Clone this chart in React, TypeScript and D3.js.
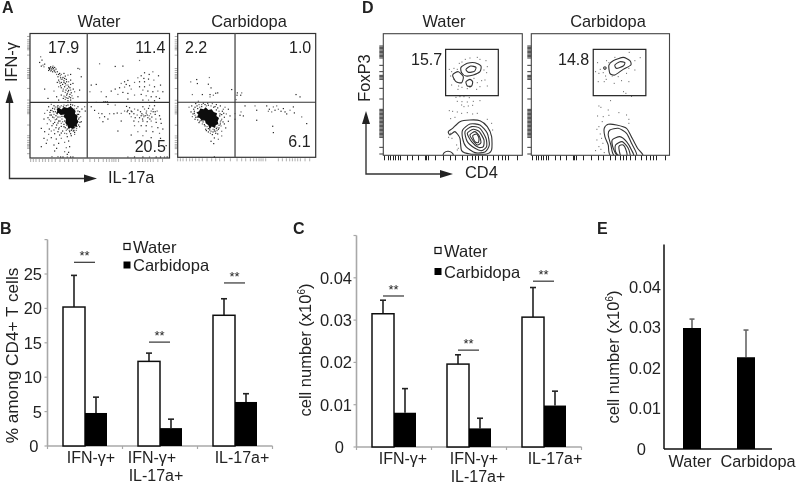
import React from "react";
import * as d3 from "d3";

type Pt = [number, number];

// ---------- bar chart data ----------
const groups = ["IFN-γ+", "IFN-γ+ IL-17a+", "IL-17a+"];
const percentWater = [20.2, 12.3, 19.0];
const percentWaterTop = [24.8, 13.5, 21.4];
const percentCarbidopa = [4.8, 2.6, 6.4];
const percentCarbidopaTop = [7.1, 3.9, 7.6];
const percentSignif = [26.7, 15.1, 23.7];
const percentTicks = [0, 5, 10, 15, 20, 25];

const cellsWater = [0.0315, 0.0196, 0.0307];
const cellsWaterTop = [0.0347, 0.0218, 0.0377];
const cellsCarbidopa = [0.0081, 0.0044, 0.0098];
const cellsCarbidopaTop = [0.0138, 0.0068, 0.0132];
const cellsSignif = [0.0357, 0.0229, 0.0392];
const cellTicks = [0, 0.01, 0.02, 0.03, 0.04];

const treatments = ["Water", "Carbidopa"];
const tregCells = [0.0298, 0.0226];
const tregCellsTop = [0.032, 0.0293];

// ---------- flow cytometry readings (instrument channels) ----------
const gridWaterA: Pt[] = [[178, 212]];
const gridCarbA: Pt[] = [[180, 211]];
const valuesA = [
  { panel: 0, labels: [["17.9", 60, 62], ["11.4", 322, 62], ["20.5", 320, 359]] },
  { panel: 1, labels: [["2.2", 30, 62], ["1.0", 342, 62], ["6.1", 340, 346]] },
];

const waterAPoints: Pt[] = [
  [38,75],[42,85],[35,92],[45,100],[50,97],[40,103],[48,105],[62,108],[68,105],[75,103],[80,107],[65,113],[72,113],[78,115],[84,112],[68,118],[74,120],[62,116],[82,122],[88,120],[95,125],[100,128],[108,125],[90,135],[97,132],[105,137],[112,133],[120,130],[128,128],[150,110],[155,112],[160,135],[92,145],[100,143],[108,147],[115,143],[122,150],[128,145],[88,152],[96,155],[104,158],[112,155],[120,160],[128,158],[135,155],[92,165],[100,168],[110,165],[118,170],[126,168],[136,172],[78,178],[50,172],[105,178],[112,182],[120,180],[130,183],[140,180],[155,175],[100,190],[108,193],[116,190],[124,195],[132,192],[86,195],[92,205],[112,203],[120,207],[128,205],[135,200],[60,200],[150,195],[116,198],[106,200],
  [66,108],[70,110],[74,107],[64,110],[70,116],[76,110],[80,118],[86,128],[92,128],[98,138],[104,142],[110,140],[116,150],[94,150],[100,152],[108,152],[114,160],[122,165],[98,162],[106,172],[114,175],[122,176],[128,175],[118,186],[126,188],[112,196],[120,200],[128,198],
  [70,218],[62,225],[74,230],[58,236],[66,242],[78,222],[50,245],[70,250],[60,258],[78,258],[86,262],[48,262],[68,268],[80,272],[92,268],[58,276],[72,282],[86,280],[100,275],[108,285],[64,292],[78,295],[92,292],[104,298],[115,296],[50,300],[40,290],[62,308],[80,306],[95,310],[110,305],[125,300],[136,298],[145,296],[155,285],[160,270],[158,255],[155,240],[162,232],[170,225],[172,238],[150,225],[140,222],[128,218],[115,222],[100,222],[90,222],
  [48,320],[58,325],[70,318],[85,322],[100,320],[118,315],[130,312],[140,308],[78,340],[92,335],[110,332],[122,328],[86,350],[115,348],[125,345],[80,358],[110,360],[122,362],[118,368],[90,375],[98,376],[105,376],[118,376],[128,376],[135,376],[72,375],[55,335],[40,345],
  [96,238],[88,246],[76,240],[102,262],[110,268],[116,280],[122,288],[130,296],[140,288],[146,278],[152,262],[148,248],[140,232],[128,224],[106,225],
  [72,236],[80,232],[82,240],[78,248],[84,252],[90,256],[96,256],[102,254],[74,256],[82,264],[90,274],[96,268],[104,270],[108,278],[100,284],[94,288],[112,288],[118,292],[124,296],[132,292],[138,296],[146,290],[152,280],[156,272],[154,258],[152,248],[150,238],[146,230],[134,220],[120,220],[108,220],[96,226],[88,226],[82,226],[68,236],[66,250],[64,264],[76,276],[84,288],[70,298],[90,300],[100,304],[116,306],[128,306],[140,302],
  [215,96],[262,104],[285,103],[335,86],[350,123],[364,128],[375,120],[392,132],[340,132],[330,138],[348,140],[362,142],[378,145],[350,150],[335,150],[320,152],[300,146],[290,150],[280,155],[295,158],[305,162],[290,166],[275,168],[262,172],[310,172],[335,165],[350,165],[365,160],[380,165],[398,160],[345,175],[360,178],[375,180],[390,178],[405,180],[340,188],[355,192],[370,195],[385,195],[320,190],[300,185],[285,182],[270,188],[250,178],[235,195],[220,180],[205,158],[190,160],[186,180],[300,202],[345,205],[362,205],[380,207],[395,200],
  [227,210],[232,210],[238,210],[205,212],[190,225],[200,236],[212,245],[222,246],[230,255],[245,246],[258,246],[268,244],[280,245],[240,262],[225,270],[215,258],[300,236],[310,238],[320,232],[330,235],[338,240],[350,232],[362,230],[375,232],[388,238],[305,246],[318,246],[328,250],[342,246],[355,244],[368,246],[382,248],[395,252],[310,255],[322,258],[335,258],[348,255],[360,258],[372,256],[384,262],[398,262],[318,268],[332,270],[345,268],[358,270],[370,268],[385,272],[400,275],[320,282],[340,282],[355,282],[372,285],[390,288],[405,292],[330,300],[355,298],[375,300],[395,305],[270,298],[310,310],[345,312],[370,318],[398,320],[300,376],[320,376],[345,376],[365,376],[385,376],[398,376],[410,376],[418,376],[415,342],[325,335],[280,268],[296,224],[262,220],[240,218],
  [340,252],[346,250],[352,252],[358,250],[364,252],[376,240],[382,240],[370,238],[344,262],[366,262],[356,238],[312,240],[298,240],[290,238],[305,228],[345,225],[365,222],[380,222],
];
const waterACore: Pt[] = [[86,232],[92,227],[100,233],[108,226],[118,229],[128,224],[136,230],[143,238],[141,246],[149,252],[147,262],[152,270],[146,278],[149,286],[140,284],[136,293],[128,288],[122,292],[118,280],[112,274],[114,262],[106,254],[110,248],[98,250],[92,244],[84,246],[88,238]];

const carbAPoints: Pt[] = [
  [47,150],[65,143],[67,155],[103,137],[100,157],[108,168],[52,188],[82,188],[105,188],[115,190],[122,184],[128,183],[105,195],[170,173],[187,183],[200,183],[186,190],[197,190],[183,203],[363,188],[375,195],
  [70,208],[62,215],[50,222],[42,226],[56,232],[48,240],[72,218],[85,214],[98,214],[112,215],[124,218],[136,222],[150,226],[160,232],[142,238],[154,246],[165,252],[148,256],[140,262],[160,268],[148,276],[138,282],[152,288],[130,292],[140,298],[120,298],[128,306],[108,298],[100,290],[90,282],[82,276],[72,272],[60,262],[52,254],[112,308],[118,318],[130,322],[108,328],[116,335],[140,312],[92,292],[84,262],[70,250],[58,244],[135,246],[145,232],[128,228],[116,226],[94,222],[80,224],[68,230],[136,270],[132,280],[124,290],[114,292],[104,294],[78,266],[66,256],
  [60,226],[66,222],[74,226],[58,238],[54,246],[60,250],[62,256],[68,264],[74,268],[84,270],[88,278],[96,284],[94,296],[100,300],[106,304],[114,300],[122,304],[126,296],[132,288],[136,276],[138,266],[134,252],[140,248],[132,238],[124,234],[120,224],[108,222],[100,220],[90,218],[80,218],[146,244],[144,270],[126,286],[118,294],
  [210,222],[240,222],[245,235],[275,222],[295,225],[283,232],[300,235],[310,232],[325,230],[330,240],[345,235],[358,243],[355,225],[380,255],[395,275],[245,265],[290,240],[293,283],[295,302],[198,240],[205,252],[195,250],[180,245],[180,262],[118,375],[280,238],[318,238],[335,246],[305,222],
];
const carbACore: Pt[] = [[64,242],[72,238],[76,230],[86,232],[92,226],[100,234],[110,232],[116,240],[126,244],[124,252],[132,258],[128,268],[130,276],[122,280],[120,288],[110,284],[104,292],[100,280],[92,274],[90,266],[80,266],[74,258],[66,256],[70,248]];

const ticksABottom = [8,16,24,34,44,52,62,72,82,96,110,122,134,148,166,186,200,212,226,236,244,252,258,264,272,310,322,334,344,352,360,368,376,390,404];
const ticksALeft = [14,24,30,36,42,46,50,54,70,110,116,122,128,132,136,140,170,205,214,222,228,234,238,242,246,280,312,318,326,332,338,342,346,350,366];

const gateD = [[197, 58, 355, 197], [205, 58, 363, 197]];

const waterDContours: Pt[][] = [
  [[243,112],[262,100],[285,98],[303,108],[300,125],[280,135],[258,138],[245,128]],
  [[258,118],[272,108],[288,112],[283,124],[266,127]],
  [[218,135],[235,125],[250,140],[245,158],[228,155]],
  [[258,155],[270,148],[278,155],[275,168],[262,168]],
  [[205,305],[218,295],[240,275],[270,270],[300,272],[322,290],[335,320],[335,360],[320,372],[270,372],[245,362],[240,325],[225,305],[210,315]],
  [[248,300],[270,282],[300,285],[322,310],[328,345],[315,366],[285,368],[258,350],[248,325]],
  [[255,305],[275,290],[300,295],[318,325],[320,350],[305,362],[285,355],[262,335]],
  [[262,310],[280,298],[298,305],[312,330],[310,350],[295,352],[275,335]],
  [[270,315],[285,305],[298,318],[303,338],[292,345],[278,330]],
  [[278,318],[290,312],[297,325],[295,338],[285,335]],
  [[190,378],[193,368],[205,364],[218,370],[218,378]],
];
const waterDPoints: Pt[] = [
  [238,100],[246,96],[256,88],[270,84],[292,82],[300,88],[318,92],[322,110],[312,120],[320,128],[208,118],[215,125],[222,115],[232,118],[212,138],[222,148],[236,168],[246,172],[234,178],[262,176],[270,172],[292,158],[305,152],[300,170],[315,150],[322,168],[282,145],[290,178],[215,165],
  [228,202],[240,200],[252,200],[268,203],[232,214],[246,215],[262,216],[280,214],[300,212],[245,225],[252,230],[265,228],[278,226],[208,242],[218,244],[232,246],[245,250],[262,248],[278,252],[292,250],[212,266],[225,262],
  [206,322],[216,325],[212,310],[235,355],[230,345],[232,360],[322,268],[335,280],[338,300],
];
const carbDContours: Pt[][] = [
  [[252,105],[265,92],[295,82],[315,92],[318,105],[295,118],[270,135],[255,130]],
  [[270,105],[285,95],[300,98],[295,108],[275,115]],
  [[236,114],[240,110],[244,114],[240,118]],
  [[238,295],[250,283],[275,285],[305,295],[322,325],[338,355],[352,379],[260,379],[250,345],[240,320]],
  [[255,300],[280,295],[305,310],[320,340],[335,379],[270,379],[258,345],[250,315]],
  [[262,330],[285,320],[305,335],[320,360],[325,379],[280,379],[265,355]],
  [[272,345],[292,335],[310,355],[315,379],[285,379],[272,365]],
  [[282,350],[295,345],[305,365],[305,379],[288,379]],
];
const carbDPoints: Pt[] = [
  [218,98],[245,92],[252,98],[270,82],[313,67],[346,83],[330,92],[312,115],[330,120],[226,118],[212,125],[222,130],[235,128],[242,138],[220,155],[238,155],[244,148],[262,138],[268,160],[280,140],[290,152],[312,155],[305,130],[296,185],[303,190],
  [257,212],[320,199],[222,228],[228,232],[250,240],[282,248],[305,255],[218,258],[235,260],[252,256],[312,268],[232,275],[312,280],
  [222,290],[216,298],[226,312],[230,325],[216,330],[234,340],[222,350],[212,362],[238,368],[228,358],
];
const ticksDBottom = [103,113,120,128,135,143,150,170,185,205,225,228,235,255,280,300,315,335,350,365,375,385,395,410,430,445,455,465,475,500];
const ticksDLeft = [138,142,146,150,154,158,162,166,170,174,196,215,226,230,234,238,265,297,328,332,336,340,344,348,352,356,360,364,368,372,376,380,384,388,392,396,400,404,408,412,442,462];

// ---------- layout helpers ----------
const FONT = "'Liberation Sans', Arial, sans-serif";
const INK = "#222";

function Txt({ x, y, size = 16, anchor = "start", weight = 400, rotate, children }: any) {
  return (
    <text
      x={x}
      y={y}
      fontSize={size}
      fontFamily={FONT}
      fontWeight={weight}
      fill={INK}
      textAnchor={anchor}
      transform={rotate ? `rotate(${rotate} ${x} ${y})` : undefined}
    >
      {children}
    </text>
  );
}

function ScatterPanel({ box, domX, domY, points, core, grid }: any) {
  const [l, t, r, b] = box;
  const x = d3.scaleLinear().domain(domX).range([l, r]);
  const y = d3.scaleLinear().domain(domY).range([t, b]);
  const line = d3.line<Pt>().x((d) => x(d[0])).y((d) => y(d[1])).curve(d3.curveLinearClosed);
  return (
    <g>
      <g stroke="#999" strokeWidth={0.8}>
        {ticksABottom.map((v) => (
          <line key={v} x1={x(v)} x2={x(v)} y1={b + 1} y2={b + 4} />
        ))}
        {ticksALeft.map((v) => (
          <line key={v} x1={l - 3} x2={l} y1={y(v)} y2={y(v)} />
        ))}
      </g>
      <path d={line(core)!} fill="#0c0c0c" />
      {points.map((p: Pt, i: number) => (
        <rect key={i} x={x(p[0]) - 0.6} y={y(p[1]) - 0.6} width={1.2} height={1.2} fill="#1a1a1a" fillOpacity={i % 3 === 0 ? 0.65 : 0.95} />
      ))}
      <rect x={l} y={t} width={r - l} height={b - t} fill="none" stroke="#333" strokeWidth={1.2} />
      <line x1={x(grid[0])} x2={x(grid[0])} y1={t} y2={b} stroke="#555" strokeWidth={1.4} />
      <line x1={l} x2={r} y1={y(grid[1])} y2={y(grid[1])} stroke="#333" strokeWidth={1.2} />
    </g>
  );
}

function ContourPanel({ box, domX, domY, contours, points, gate, clipId }: any) {
  const [l, t, r, b] = box;
  const x = d3.scaleLinear().domain(domX).range([l, r]);
  const y = d3.scaleLinear().domain(domY).range([t, b]);
  const line = d3.line<Pt>().x((d) => x(d[0])).y((d) => y(d[1])).curve(d3.curveCardinalClosed.tension(0.3));
  return (
    <g>
      <clipPath id={clipId}>
        <rect x={l} y={t} width={r - l} height={b - t} />
      </clipPath>
      <g stroke="#222" strokeWidth={1}>
        {ticksDBottom.map((v, i) => {
          const px = Math.round(l + (v - 103) / 3 + 1) + 0.5;
          return <line key={i} x1={px} x2={px} y1={b} y2={b + 5} />;
        })}
        {ticksDLeft.map((v, i) => (
          <line key={i} x1={l - 4} x2={l} y1={v / 3} y2={v / 3} strokeWidth={0.9} />
        ))}
      </g>
      <g clipPath={`url(#${clipId})`}>
        {contours.map((c: Pt[], i: number) => (
          <path key={i} d={line(c)!} fill="none" stroke="#333" strokeWidth={1.1} />
        ))}
        {points.map((p: Pt, i: number) => (
          <rect key={i} x={x(p[0]) - 0.5} y={y(p[1]) - 0.5} width={1} height={1} fill="#333" fillOpacity={0.8} />
        ))}
      </g>
      <rect x={l} y={t} width={r - l} height={b - t} fill="none" stroke="#444" strokeWidth={1.1} />
      <rect x={x(gate[0])} y={y(gate[1])} width={x(gate[2]) - x(gate[0])} height={y(gate[3]) - y(gate[1])} fill="none" stroke="#222" strokeWidth={1.2} />
    </g>
  );
}

function GroupedBars({ left, right, y0, yTop, domainMax, ticks, water, waterTop, carb, carbTop, signif, fmt, labelRight, zeroRight, labelShift, secondShift }: any) {
  const x = d3.scaleBand<string>().domain(groups).range([left, right]);
  const y = d3.scaleLinear().domain([0, domainMax]).range([y0, yTop]);
  const bw = 22;
  const axisCol = "#a8a8a8";
  return (
    <g>
      <line x1={left} x2={left} y1={yTop} y2={y0} stroke={axisCol} strokeWidth={1.6} />
      <line x1={left} x2={right} y1={y0} y2={y0} stroke={axisCol} strokeWidth={1.6} />
      {[...ticks, domainMax].map((t: number) => (
        <line key={t} x1={left - 3} x2={left} y1={y(t)} y2={y(t)} stroke={axisCol} strokeWidth={1.2} />
      ))}
      {[...groups.map((g) => x(g)!), right].map((v, i) => (
        <line key={i} x1={v} x2={v} y1={y0} y2={y0 + 3} stroke={axisCol} strokeWidth={1.2} />
      ))}
      {ticks.map((t: number) => (
        <Txt key={t} x={t === 0 ? zeroRight : labelRight} y={y(t) + 6} size={16.5} anchor="end">
          {fmt(t)}
        </Txt>
      ))}
      {groups.map((g, i) => {
        const c = x(g)! + x.bandwidth() / 2;
        return (
          <g key={g}>
            <line x1={c - 11} x2={c - 11} y1={y(water[i])} y2={y(waterTop[i])} stroke="#222" strokeWidth={1.6} />
            <line x1={c - 14} x2={c - 8} y1={y(waterTop[i])} y2={y(waterTop[i])} stroke="#222" strokeWidth={1.6} />
            <rect x={c - bw} y={y(water[i])} width={bw} height={y0 - y(water[i])} fill="#fff" stroke="#111" strokeWidth={1.5} />
            <line x1={c + 11} x2={c + 11} y1={y(carb[i])} y2={y(carbTop[i])} stroke="#222" strokeWidth={1.6} />
            <line x1={c + 8} x2={c + 14} y1={y(carbTop[i])} y2={y(carbTop[i])} stroke="#222" strokeWidth={1.6} />
            <rect x={c} y={y(carb[i])} width={bw} height={y0 - y(carb[i])} fill="#000" />
            <line x1={c - 11} x2={c + 10} y1={y(signif[i])} y2={y(signif[i])} stroke="#333" strokeWidth={1.2} />
            <Txt x={c - 0.5} y={y(signif[i]) - 2} size={13} anchor="middle">**</Txt>
          </g>
        );
      })}
      {groups.map((g, i) => {
        const c = x(g)! + x.bandwidth() / 2;
        const parts = i === 1 ? ["IFN-γ+", "IL-17a+"] : [g];
        return parts.map((p, j) => (
          <Txt key={p + j} x={c + (j === 0 ? labelShift[i] : secondShift)} y={y0 + 17 + j * 18} size={16} anchor="middle">
            {p}
          </Txt>
        ));
      })}
    </g>
  );
}

function Legend({ x, y1, y2 }: any) {
  return (
    <g>
      <rect x={x} y={y1 - 3} width={6} height={6} fill="#fff" stroke="#111" strokeWidth={1.2} />
      <Txt x={x + 9} y={y1 + 6} size={16.5}>Water</Txt>
      <rect x={x - 0.5} y={y2 - 3.5} width={7} height={7} fill="#000" />
      <Txt x={x + 9} y={y2 + 6} size={16.5}>Carbidopa</Txt>
    </g>
  );
}

function CellLabel({ x, y }: any) {
  return (
    <text x={x} y={y} fontSize={16.5} fontFamily={FONT} fill={INK} textAnchor="middle" transform={`rotate(-90 ${x} ${y})`}>
      cell number (x10<tspan fontSize={10} dy={-6}>6</tspan><tspan dy={6}>)</tspan>
    </text>
  );
}

function SingleBars() {
  const x = d3.scaleBand<string>().domain(treatments).range([665, 773]);
  const y = d3.scaleLinear().domain([0, 0.05]).range([449, 246]);
  return (
    <g>
      <line x1={664} x2={664} y1={244.5} y2={449} stroke="#111" strokeWidth={1.5} />
      <line x1={664} x2={772} y1={449} y2={449} stroke="#111" strokeWidth={1.5} />
      {cellTicks.map((t) => (
        <Txt key={t} x={t === 0 ? 646 : 661} y={y(t) + 6} size={16.5} anchor="end">
          {t === 0 ? "0" : t.toFixed(2)}
        </Txt>
      ))}
      {treatments.map((t, i) => {
        const c = x(t)! + x.bandwidth() / 2;
        return (
          <g key={t}>
            <line x1={c} x2={c} y1={y(tregCells[i])} y2={y(tregCellsTop[i])} stroke="#666" strokeWidth={1.6} />
            <line x1={c - 2.5} x2={c + 2.5} y1={y(tregCellsTop[i])} y2={y(tregCellsTop[i])} stroke="#666" strokeWidth={1.6} />
            <rect x={c - 9} y={y(tregCells[i])} width={18} height={449 - y(tregCells[i])} fill="#000" />
          </g>
        );
      })}
      <Txt x={690} y={467} size={16.3} anchor="middle">Water</Txt>
      <Txt x={758} y={467} size={16.3} anchor="middle">Carbidopa</Txt>
    </g>
  );
}

export default function App() {
  const pctFmt = (t: number) => String(t);
  const cellFmt = (t: number) => (t === 0 ? "0" : t.toFixed(2));
  return (
    <svg width={796} height={484} viewBox="0 0 796 484" style={{ position: "absolute", left: 0, top: 0, background: "#fff" }}>
      <defs>
        <filter id="soft" x="0" y="0" width="100%" height="100%" filterUnits="userSpaceOnUse">
          <feGaussianBlur stdDeviation={0.35} />
        </filter>
      </defs>
      <g filter="url(#soft)">
        <rect x={0} y={0} width={796} height={484} fill="#fff" />
        {/* Panel A */}
        <Txt x={2} y={13} size={16} weight={700}>A</Txt>
        <Txt x={99} y={27} size={16.4} anchor="middle">Water</Txt>
        <Txt x={249} y={27} size={16.4} anchor="middle">Carbidopa</Txt>
        <ScatterPanel box={[30, 33.5, 169.5, 158]} domX={[6, 425]} domY={[5, 379]} points={waterAPoints} core={waterACore} grid={gridWaterA[0]} />
        <ScatterPanel box={[177.7, 33.5, 315.7, 157.3]} domX={[8, 422]} domY={[5, 376]} points={carbAPoints} core={carbACore} grid={gridCarbA[0]} />
        {valuesA.map((p) =>
          p.labels.map((lab: any) => (
            <Txt key={lab[0]} x={(p.panel === 0 ? 28 : 175) + lab[1] / 3} y={32 + lab[2] / 3} size={16}>
              {lab[0]}
            </Txt>
          ))
        )}
        <path d="M9.5,100V178.5H88" stroke="#333" strokeWidth={1.4} fill="none" />
        <path d={d3.line()([[9.5, 90], [5.5, 103], [13.5, 103]])! + "Z"} fill="#222" />
        <path d={d3.line()([[97, 178.5], [84, 174.5], [84, 182.5]])! + "Z"} fill="#222" />
        <Txt x={17} y={62} size={16.4} anchor="middle" rotate={-90}>IFN-γ</Txt>
        <Txt x={108} y={183} size={16.4}>IL-17a</Txt>

        {/* Panel D */}
        <Txt x={362} y={13} size={16} weight={700}>D</Txt>
        <Txt x={444} y={27} size={16.4} anchor="middle">Water</Txt>
        <Txt x={608} y={27} size={16.4} anchor="middle">Carbidopa</Txt>
        <ContourPanel box={[383.3, 33.7, 522.3, 155.3]} domX={[10, 427]} domY={[11, 376]} contours={waterDContours} points={waterDPoints} gate={gateD[0]} clipId="dw" />
        <ContourPanel box={[531.3, 33.7, 669.5, 155.3]} domX={[19, 434]} domY={[11, 376]} contours={carbDContours} points={carbDPoints} gate={gateD[1]} clipId="dc" />
        <Txt x={411} y={65} size={16}>15.7</Txt>
        <Txt x={558} y={65} size={16}>14.8</Txt>
        <path d="M366,120V174H444" stroke="#333" strokeWidth={1.4} fill="none" />
        <path d={d3.line()([[366, 111], [362, 124], [370, 124]])! + "Z"} fill="#222" />
        <path d={d3.line()([[453, 174], [440, 170], [440, 178]])! + "Z"} fill="#222" />
        <Txt x={370} y={78} size={16.4} anchor="middle" rotate={-90}>FoxP3</Txt>
        <Txt x={465} y={178} size={16.4}>CD4</Txt>

        {/* Panel B */}
        <Txt x={0} y={234} size={16} weight={700}>B</Txt>
        <GroupedBars left={47.5} right={272.5} y0={446} yTop={239.6} domainMax={30} ticks={percentTicks} water={percentWater} waterTop={percentWaterTop} carb={percentCarbidopa} carbTop={percentCarbidopaTop} signif={percentSignif} fmt={pctFmt} labelRight={42} zeroRight={38.5} labelShift={[6, -8, 7]} secondShift={-4} />
        <Legend x={124} y1={246.5} y2={265} />
        <Txt x={18} y={355.5} size={17.2} anchor="middle" rotate={-90}>% among CD4+ T cells</Txt>

        {/* Panel C */}
        <Txt x={293} y={234} size={16} weight={700}>C</Txt>
        <GroupedBars left={356.5} right={581.5} y0={447} yTop={235.5} domainMax={0.05} ticks={cellTicks} water={cellsWater} waterTop={cellsWaterTop} carb={cellsCarbidopa} carbTop={cellsCarbidopaTop} signif={cellsSignif} fmt={cellFmt} labelRight={352} zeroRight={344} labelShift={[9, 5, 11]} secondShift={9} />
        <Legend x={435} y1={250.5} y2={271.5} />
        <CellLabel x={311} y={350} />

        {/* Panel E */}
        <Txt x={597} y={234} size={16} weight={700}>E</Txt>
        <SingleBars />
        <CellLabel x={619} y={357} />
      </g>
    </svg>
  );
}
